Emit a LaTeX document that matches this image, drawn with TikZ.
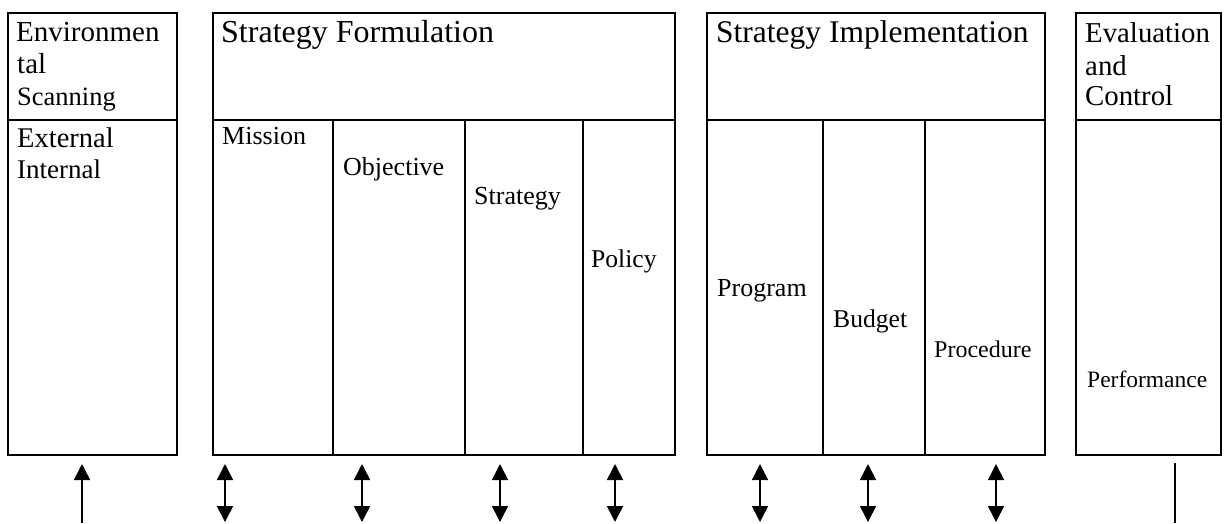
\documentclass[tikz,border=0pt]{standalone}
\usepackage{fontspec}
\setmainfont{Liberation Serif}
\usetikzlibrary{arrows.meta}
\begin{document}
\begin{tikzpicture}[x=1pt,y=-1pt,
  frame/.style={draw, line width=2.3pt},
  lbl/.style={anchor=base west, inner sep=0pt, font=\fontsize{#1}{#1}\selectfont},
  dbl/.style={{Triangle[length=16pt,width=16pt]}-{Triangle[length=16pt,width=16pt]}, line width=1.6pt},
  upar/.style={-{Triangle[length=16pt,width=16pt]}, line width=1.5pt},
  plain/.style={line width=1.5pt}]
\useasboundingbox (0,0) rectangle (1226,523);
% Environmental scanning
\draw[frame] (8,13) rectangle (177,455);
\draw[frame] (8,120) -- (177,120);
\node[lbl=29] (env1) at (16,41) {Environmen};
\node[lbl=29] (env2) at (17,73) {tal};
\node[lbl=26.5] (env3) at (17,105) {Scanning};
\node[lbl=28.5] (ext) at (17,147) {External};
\node[lbl=27] (int) at (17,178) {Internal};
% Strategy formulation
\draw[frame] (213,13) rectangle (675,455);
\draw[frame] (213,120) -- (675,120);
\draw[frame] (333,120) -- (333,455);
\draw[frame] (465,120) -- (465,455);
\draw[frame] (583,120) -- (583,455);
\node[lbl=32] (sf) at (221,42) {Strategy Formulation};
\node[lbl=26] (mis) at (222,144) {Mission};
\node[lbl=26] (obj) at (343,175) {Objective};
\node[lbl=26] (str) at (474,204) {Strategy};
\node[lbl=25.6] (pol) at (591,267) {Policy};
% Strategy implementation
\draw[frame] (707,13) rectangle (1045,455);
\draw[frame] (707,120) -- (1045,120);
\draw[frame] (823,120) -- (823,455);
\draw[frame] (925,120) -- (925,455);
\node[lbl=31.5] (si) at (716,42) {Strategy Implementation};
\node[lbl=26] (prg) at (717,296) {Program};
\node[lbl=25.6] (bud) at (833,327) {Budget};
\node[lbl=24] (prc) at (934,357) {Procedure};
% Evaluation and control
\draw[frame] (1076,13) rectangle (1221,455);
\draw[frame] (1076,120) -- (1221,120);
\node[lbl=28.8] (ev1) at (1085,42) {Evaluation};
\node[lbl=28.8] (ev2) at (1085,75) {and};
\node[lbl=28.8] (ev3) at (1085,105) {Control};
\node[lbl=23.5] (perf) at (1087,387) {Performance};
% arrows
\foreach \n/\x in {a1/225,a2/362,a3/500,a4/615,a5/760,a6/868,a7/996}{
  \coordinate (\n t) at (\x,464);
  \coordinate (\n b) at (\x,522);
  \draw[dbl] (\n t) -- (\n b);
}
\coordinate (envt) at (82,464);
\coordinate (envb) at (82,523);
\draw[upar] (envb) -- (envt);
\coordinate (evt) at (1175,463);
\coordinate (evb) at (1175,523);
\draw[plain] (evt) -- (evb);
\end{tikzpicture}
\end{document}
